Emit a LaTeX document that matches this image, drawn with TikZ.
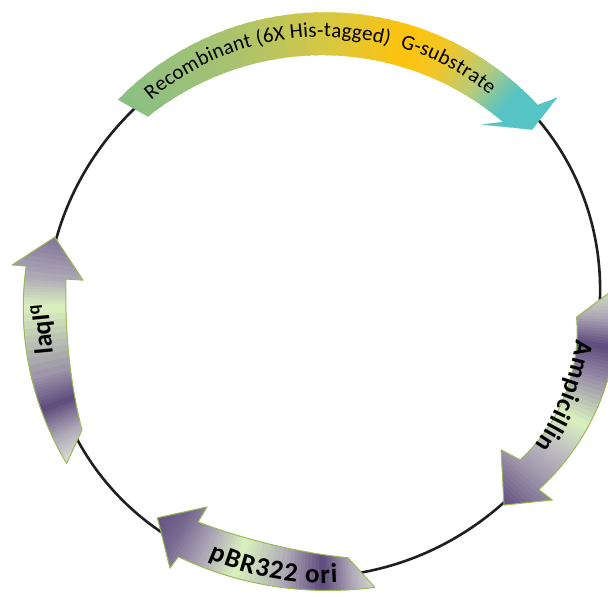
\documentclass[tikz,border=0pt]{standalone}
\usepackage{fontspec}
\setmainfont{Carlito}
\usetikzlibrary{decorations.text}

\definecolor{pur}{HTML}{5E4A7C}
\definecolor{lgr}{HTML}{DAF2BE}
\definecolor{lgy}{HTML}{E4E8DE}
\definecolor{olivegreen}{HTML}{9BBB59}
\definecolor{t1}{HTML}{88BF84}
\definecolor{t2}{HTML}{A8C270}
\definecolor{t3}{HTML}{D4C844}
\definecolor{t4}{HTML}{FFC30C}
\definecolor{t4b}{HTML}{F2C628}
\definecolor{t5}{HTML}{B8CC78}
\definecolor{t7}{HTML}{56C3C4}
\colorlet{gA}{pur!40!lgy}
\colorlet{gB}{pur!55!lgy}
\colorlet{gC}{pur!80!lgy}
\colorlet{gD}{pur!30!lgy}
\colorlet{lgrA}{lgr!65!lgy}

% gradient along the angle: #1 start angle, #2 end angle, #3 start colour, #4 end colour (named colours)
\newcommand\gseg[4]{%
  \foreach \k in {0,...,9}{%
    \pgfmathsetmacro\ta{#1+(#2-#1)*\k/10}%
    \pgfmathsetmacro\tb{#1+(#2-#1)*(\k+1.6)/10}%
    \pgfmathsetmacro\pc{95-10*\k}%
    \fill[#3!\pc!#4] (\ta:200) -- (\ta:340) -- (\tb:340) -- (\tb:200) -- cycle;
  }}

\def\pTop{plot[domain=0:1,samples=50] ({135.4-92.9*\x}:{288+3.5*\x}) -- (41.1:311) -- (39.5:271) -- (48.2:238) -- plot[domain=0:1,samples=50] ({45+88.4*\x}:{254.6+0.4*\x-32*\x*(1-\x)}) -- cycle}
\def\pLaq{plot[domain=0:1,samples=40] ({212.2-39.1*\x}:{303-4*\x}) -- (173.2:313) -- (166.4:276) -- (174.8:241) -- plot[domain=0:1,samples=40] ({174.9+33.1*\x}:{258+15*\x-24*\x*(1-\x)}) -- cycle}
\def\pAmp{plot[domain=0:1,samples=40] ({3-44*\x}:{295-9*\x+16*\x*(1-\x)}) -- (-40.8:303) -- (-48.3:272) -- (-39.7:231.5) -- plot[domain=0:1,samples=40] ({-38.7+35.3*\x}:{252.5+1.5*\x+24*\x*(1-\x)}) -- cycle}
\def\pPbr{plot[domain=0:1,samples=40] ({280.3-39.9*\x}:{290+3*\x-12*\x*(1-\x)}) -- (240.1:307) -- (232.5:272) -- (240.5:235.5) -- plot[domain=0:1,samples=40] ({240.4+35.2*\x}:{253+4*\x-28*\x*(1-\x)}) -- cycle}

\begin{document}
\begin{tikzpicture}[x=1pt,y=1pt,
  geneoutline/.style={draw=olivegreen, line width=1pt, line join=round},
  bold label/.style={font=\fontsize{26}{30}\selectfont\bfseries}]
\useasboundingbox (0,0) rectangle (608,597);
\clip (0,0) rectangle (608,597);
\fill[white] (0,0) rectangle (608,597);
\coordinate (C) at (323,295);
\draw[line width=2.6pt, black!88, rotate around={40:(C)}] (C) ellipse [x radius=282, y radius=270];

\begin{scope}[shift={(C)}]
  % top arrow
  \begin{scope}
    \clip \pTop;
    \gseg{136}{110}{t1}{t2}
    \gseg{110}{90}{t2}{t3}
    \gseg{90}{72}{t3}{t4}
    \gseg{72}{64}{t4}{t4b}
    \gseg{64}{55}{t4b}{t5}
    \gseg{55}{47}{t5}{t7}
    \gseg{47}{38}{t7}{t7}
  \end{scope}
  % laqI arrow
  \begin{scope}
    \clip \pLaq;
    \gseg{213}{207}{lgy}{gA}
    \gseg{207}{201}{gA}{pur}
    \gseg{201}{195}{pur}{gB}
    \gseg{195}{181}{gB}{lgr}
    \gseg{181}{175}{lgr}{gA}
    \gseg{175}{165}{gA}{gC}
  \end{scope}
  \draw[geneoutline] \pLaq;
  % Ampicillin arrow
  \begin{scope}
    \clip \pAmp;
    \gseg{4}{-3}{lgrA}{gA}
    \gseg{-3}{-9}{gA}{pur}
    \gseg{-9}{-16}{pur}{gB}
    \gseg{-16}{-25}{gB}{lgr}
    \gseg{-25}{-33}{lgr}{gD}
    \gseg{-33}{-40}{gD}{gB}
    \gseg{-40}{-49}{gB}{pur}
  \end{scope}
  \draw[geneoutline] \pAmp;
  % pBR322 ori arrow
  \begin{scope}
    \clip \pPbr;
    \gseg{282}{276}{lgy}{gA}
    \gseg{276}{270}{gA}{pur}
    \gseg{270}{262}{pur}{gA}
    \gseg{262}{252}{gA}{lgr}
    \gseg{252}{245}{lgr}{gA}
    \gseg{245}{238}{gA}{gC}
    \gseg{238}{231}{gC}{pur}
  \end{scope}
  \draw[geneoutline] \pPbr;

  % labels
  \path[decorate, decoration={text along path, text align=fit to path,
     text={|\fontsize{21}{25}\selectfont|Recombinant (6X His-tagged)}}]
     (130.4:265) arc[start angle=130.4, end angle=75.6, radius=265];
  \path[decorate, decoration={text along path, text align=fit to path,
     text={|\fontsize{21}{25}\selectfont|G-substrate}}]
     (73.2:266) arc[start angle=73.2, end angle=51.2, radius=266];
  \path[decorate, decoration={text along path, text align=fit to path,
     text={|\fontsize{26}{30}\selectfont\bfseries|Ampicillin}}]
     (-8.5:256) arc[start angle=-8.5, end angle=-34, radius=256];
  \path[decorate, decoration={text along path, text align=fit to path,
     text={|\fontsize{27}{32}\selectfont\bfseries|pBR322 ori}}]
     (246:281) arc[start angle=246, end angle=273, radius=281];
  \node[bold label, rotate=95.5, inner sep=0pt] (laq) at (185.5:281) {laqI\textsuperscript{q}};
\end{scope}
\end{tikzpicture}
\end{document}
